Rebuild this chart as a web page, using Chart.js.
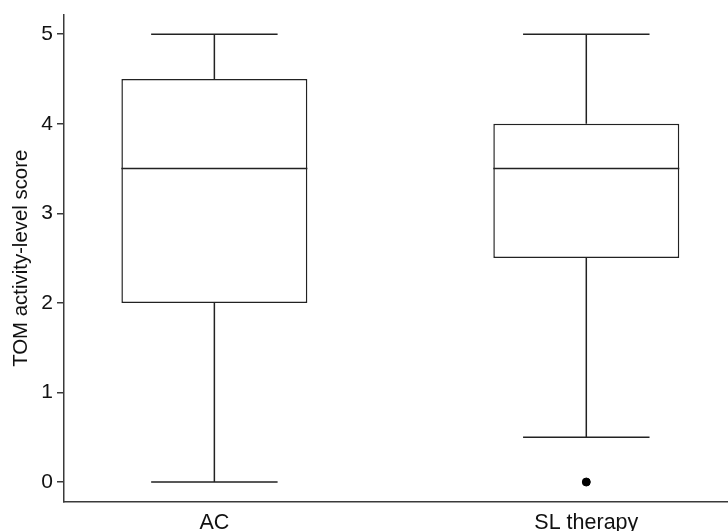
<!DOCTYPE html>
<html>
<head>
<meta charset="utf-8">
<script src="https://cdn.jsdelivr.net/npm/chart.js@4"></script>
<style>
  html, body { margin: 0; padding: 0; background: #fff; }
  #wrap { width: 728px; height: 531px; overflow: hidden; }
</style>
</head>
<body>
<div id="wrap"><canvas id="boxChart" width="732" height="531"></canvas></div>
<script>
const groups = ["AC", "SL therapy"];
const groupPos = [1, 2];
const minVals = [0, 0.5];
const q1Vals = [2, 2.5];
const medianVals = [3.5, 3.5];
const q3Vals = [4.5, 4];
const maxVals = [5, 5];
const outlierPos = [2];
const outlierVals = [0];
const yTicks = [0, 1, 2, 3, 4, 5];

const lineColor = "#222";
const axisColor = "#3a3a3a";
const fontFamily = "'Liberation Sans', Arial, sans-serif";

// whiskers, caps and medians drawn through the chart scales
const boxExtras = {
  id: "boxExtras",
  afterDatasetsDraw(chart) {
    const x = chart.scales.x;
    const y = chart.scales.y;
    const meta = chart.getDatasetMeta(0);
    const ctx = chart.ctx;
    ctx.save();
    ctx.strokeStyle = lineColor;
    ctx.lineWidth = 1.5;
    groupPos.forEach(function (pos, i) {
      const cx = x.getPixelForValue(pos);
      const half = meta.data[i].width / 2;
      const cap = half * 0.68;
      const yMin = y.getPixelForValue(minVals[i]);
      const yQ1 = y.getPixelForValue(q1Vals[i]);
      const yMed = y.getPixelForValue(medianVals[i]);
      const yQ3 = y.getPixelForValue(q3Vals[i]);
      const yMax = y.getPixelForValue(maxVals[i]);
      ctx.beginPath();
      ctx.moveTo(cx, yQ3);
      ctx.lineTo(cx, yMax);
      ctx.moveTo(cx - cap, yMax);
      ctx.lineTo(cx + cap, yMax);
      ctx.moveTo(cx, yQ1);
      ctx.lineTo(cx, yMin);
      ctx.moveTo(cx - cap, yMin);
      ctx.lineTo(cx + cap, yMin);
      ctx.moveTo(cx - half, yMed);
      ctx.lineTo(cx + half, yMed);
      ctx.stroke();
    });
    ctx.restore();
  },
};

new Chart(document.getElementById("boxChart"), {
  data: {
    datasets: [
      {
        type: "bar",
        data: groupPos.map((p, i) => ({ x: p, y: [q1Vals[i], q3Vals[i]] })),
        backgroundColor: "#fff",
        borderColor: lineColor,
        borderWidth: 1.5,
        borderSkipped: false,
        barPercentage: 1,
        categoryPercentage: 0.5,
      },
      {
        type: "scatter",
        data: outlierPos.map((p, i) => ({ x: p, y: outlierVals[i] })),
        backgroundColor: "#000",
        borderColor: "#000",
        pointRadius: 4,
      },
    ],
  },
  options: {
    responsive: false,
    animation: false,
    layout: { padding: { top: 14, right: 0, bottom: 0, left: 0 } },
    plugins: {
      legend: { display: false },
      tooltip: { enabled: false },
    },
    scales: {
      x: {
        type: "linear",
        min: 0.5957,
        max: 2.3783,
        offset: false,
        afterBuildTicks(scale) {
          scale.ticks = groupPos.map((v) => ({ value: v }));
        },
        afterFit(scale) {
          scale.height = 29;
        },
        grid: { display: false, drawTicks: false, offset: false },
        border: { display: true, color: axisColor, width: 1.5 },
        ticks: {
          padding: 8,
          color: "#111",
          font: { family: fontFamily, size: 21.5 },
          callback: (v) => groups[groupPos.indexOf(v)],
          maxRotation: 0,
        },
      },
      y: {
        type: "linear",
        min: -0.223,
        max: 5.22,
        afterBuildTicks(scale) {
          scale.ticks = yTicks.map((v) => ({ value: v }));
        },
        afterFit(scale) {
          scale.width = 64;
        },
        grid: {
          drawOnChartArea: false,
          drawTicks: true,
          tickLength: 7,
          color: axisColor,
          lineWidth: 1.5,
        },
        border: { display: true, color: axisColor, width: 1.5 },
        ticks: {
          padding: 4,
          color: "#111",
          font: { family: fontFamily, size: 21, lineHeight: 1 },
        },
        title: {
          display: true,
          text: "TOM activity-level score",
          color: "#111",
          font: { family: fontFamily, size: 20.4 },
          padding: { top: 9, bottom: 0 },
        },
      },
    },
  },
  plugins: [boxExtras],
});
</script>
</body>
</html>
